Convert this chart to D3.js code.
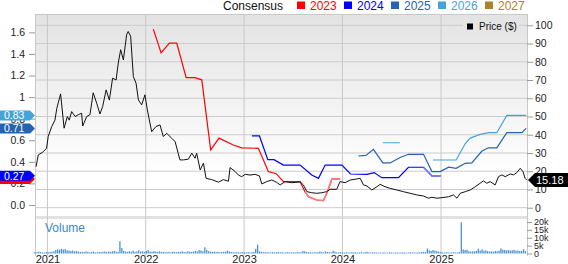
<!DOCTYPE html>
<html>
<head>
<meta charset="utf-8">
<script src="https://cdn.jsdelivr.net/npm/d3@7"></script>
<style>
body { margin: 0; background: #fff; }
svg { display: block; font-family: "Liberation Sans", Arial, sans-serif; }
</style>
</head>
<body>
<svg id="chart" width="568" height="264"></svg>
<script>
// ---- data ----
var yearTicks = ["2021-01-01", "2022-01-01", "2023-01-01", "2024-01-01", "2025-01-01"];
var yearLabels = ["2021", "2022", "2023", "2024", "2025"];
var legendYears = ["2023", "2024", "2025", "2026", "2027"];
var priceTicks = [0, 10, 20, 30, 40, 50, 60, 70, 80, 90, 100];
var consTicks = [0, 0.2, 0.4, 0.6, 0.8, 1, 1.2, 1.4, 1.6];
var consTickLabels = ["0.0", "0.2", "0.4", "0.6", "0.8", "1", "1.2", "1.4", "1.6"];
var volTicks = [0, 5, 10, 15, 20];
var volTickLabels = ["0", "5k", "10k", "15k", "20k"];
var lastPrice = 15.18;

var price = [
  ["2020-11-20", 22.5], ["2020-11-28", 28.9], ["2020-12-17", 30.7], ["2020-12-29", 32.6],
  ["2021-01-04", 39], ["2021-01-17", 44.5], ["2021-01-29", 48], ["2021-02-05", 54.5],
  ["2021-02-19", 62.4], ["2021-03-04", 43.6], ["2021-03-16", 50], ["2021-03-23", 48],
  ["2021-04-01", 52.7], ["2021-04-14", 50], ["2021-04-26", 51], ["2021-05-08", 51.8],
  ["2021-05-12", 44.8], ["2021-05-27", 50], ["2021-06-08", 51], ["2021-06-20", 63],
  ["2021-07-03", 57.3], ["2021-07-15", 51.4], ["2021-07-25", 55.4], ["2021-08-07", 64.6],
  ["2021-08-19", 59], ["2021-08-31", 71], ["2021-09-13", 70], ["2021-09-21", 79.3],
  ["2021-09-30", 86.6], ["2021-10-10", 81], ["2021-10-22", 94.8], ["2021-10-28", 96.6],
  ["2021-11-06", 94], ["2021-11-16", 71.9], ["2021-11-26", 68.3], ["2021-12-05", 59],
  ["2021-12-17", 56.4], ["2021-12-29", 61.9], ["2022-01-07", 53.6], ["2022-01-23", 41.7],
  ["2022-02-08", 44.5], ["2022-02-23", 45.4], ["2022-03-07", 39], ["2022-03-20", 40.8],
  ["2022-04-08", 38], ["2022-04-20", 36.2], ["2022-05-08", 26.2], ["2022-05-21", 26.2],
  ["2022-06-08", 26.6], ["2022-06-21", 29.9], ["2022-07-03", 27.1], ["2022-07-09", 29.9],
  ["2022-07-22", 20.7], ["2022-08-03", 24.4], ["2022-08-13", 16.1], ["2022-09-03", 15.4],
  ["2022-09-28", 14], ["2022-10-16", 15.4], ["2022-11-04", 14.5], ["2022-11-10", 22],
  ["2022-11-29", 19.8], ["2022-12-11", 17.9], ["2022-12-23", 17], ["2023-01-05", 18.3],
  ["2023-01-23", 17.9], ["2023-02-11", 18.3], ["2023-02-27", 17.4], ["2023-03-08", 13],
  ["2023-03-26", 14.3], ["2023-04-14", 15.2], ["2023-05-02", 13.9], ["2023-05-15", 12.5],
  ["2023-06-02", 14.3], ["2023-06-27", 13.7], ["2023-07-28", 14.1], ["2023-08-09", 12.5],
  ["2023-08-22", 8.8], ["2023-09-09", 8.2], ["2023-09-28", 7.9], ["2023-10-16", 8.2],
  ["2023-11-04", 8.8], ["2023-11-16", 10.1], ["2023-12-11", 10.1], ["2023-12-23", 14.3],
  ["2024-01-11", 13.7], ["2024-01-30", 15.2], ["2024-02-17", 15.6], ["2024-03-07", 16.1],
  ["2024-03-19", 12.5], ["2024-04-01", 11.9], ["2024-04-19", 9.7], ["2024-05-08", 11.5],
  ["2024-05-20", 12.8], ["2024-06-07", 11.5], ["2024-06-26", 10.6], ["2024-07-21", 9.7],
  ["2024-08-14", 8.8], ["2024-09-08", 7.9], ["2024-10-03", 7], ["2024-10-28", 6.4],
  ["2024-11-15", 5.2], ["2024-11-28", 5.7], ["2024-12-16", 5.2], ["2025-01-04", 5.5],
  ["2025-01-29", 6], ["2025-02-16", 7], ["2025-03-01", 5.2], ["2025-03-13", 7.9],
  ["2025-04-01", 8.8], ["2025-04-19", 9.7], ["2025-05-08", 11.5], ["2025-05-26", 13.4],
  ["2025-06-07", 14.7], ["2025-06-20", 13.4], ["2025-07-02", 14.3], ["2025-07-21", 12.5],
  ["2025-08-02", 17], ["2025-08-15", 18], ["2025-08-27", 17], ["2025-09-15", 18.5],
  ["2025-09-27", 18], ["2025-10-09", 19.2], ["2025-10-22", 21.6], ["2025-11-01", 19.8],
  ["2025-11-09", 16.1], ["2025-11-15", 15.18]
];

var cons2023 = [
  ["2022-01-29", 1.63], ["2022-02-27", 1.41], ["2022-03-30", 1.50], ["2022-04-26", 1.50],
  ["2022-05-31", 1.18], ["2022-07-03", 1.18], ["2022-07-28", 1.16], ["2022-08-30", 0.51],
  ["2022-09-30", 0.62], ["2022-11-22", 0.556], ["2022-12-23", 0.53], ["2023-02-23", 0.525],
  ["2023-04-01", 0.31], ["2023-04-30", 0.29], ["2023-05-27", 0.216], ["2023-07-28", 0.216],
  ["2023-08-15", 0.123], ["2023-08-28", 0.077], ["2023-09-28", 0.046], ["2023-10-22", 0.04],
  ["2023-11-04", 0.108], ["2023-11-23", 0.24], ["2023-12-23", 0.24]
];
var cons2024 = [
  ["2023-01-30", 0.64], ["2023-02-27", 0.64], ["2023-03-30", 0.42], ["2023-04-22", 0.42],
  ["2023-05-27", 0.37], ["2023-07-28", 0.37], ["2023-09-09", 0.278], ["2023-10-04", 0.247],
  ["2023-10-29", 0.37], ["2023-12-30", 0.37], ["2024-01-31", 0.287], ["2024-04-01", 0.284],
  ["2024-04-28", 0.30], ["2024-05-26", 0.253], ["2024-07-27", 0.253], ["2024-09-02", 0.35],
  ["2024-10-28", 0.35], ["2024-11-28", 0.27], ["2024-12-31", 0.27]
];
var cons2025 = [
  ["2024-02-29", 0.454], ["2024-03-28", 0.46], ["2024-04-25", 0.516], ["2024-05-30", 0.39],
  ["2024-06-26", 0.39], ["2024-08-02", 0.44], ["2024-09-02", 0.47], ["2024-10-28", 0.47],
  ["2024-11-28", 0.31], ["2024-12-29", 0.31], ["2025-01-29", 0.35], ["2025-02-26", 0.34],
  ["2025-04-01", 0.386], ["2025-04-25", 0.39], ["2025-06-02", 0.50], ["2025-06-26", 0.53],
  ["2025-07-27", 0.53], ["2025-09-02", 0.67], ["2025-10-28", 0.67], ["2025-11-13", 0.71]
];
var cons2026 = [
  ["2024-05-30", 0.577], ["2024-08-01", 0.577], ["2024-09-01", null],
  ["2024-12-02", 0.417], ["2025-02-26", 0.417], ["2025-04-01", 0.57], ["2025-04-19", 0.62],
  ["2025-05-26", 0.655], ["2025-06-26", 0.67], ["2025-07-27", 0.67], ["2025-09-02", 0.83],
  ["2025-11-13", 0.83]
];
var cons2027 = [];

// weekly volume (thousands), weeks starting 2020-11-16
var volStart = "2020-11-16";
var vol2020 = [1.0, 0.8, 1.2, 0.9, 0.7, 0.6, 1.0];
var vol2021 = [0.8, 1.0, 1.1, 1.4, 2.2, 2.6, 2.4, 3.0, 2.5, 2.8, 2.0, 1.8, 1.6, 1.9, 1.4, 1.5,
  1.2, 1.0, 1.1, 0.9, 1.3, 1.0, 0.8, 0.9, 1.2, 0.7, 0.8, 1.0, 0.9, 1.1, 1.3, 0.9, 1.2, 1.0,
  1.4, 1.6, 1.1, 1.0, 7.8, 3.5, 1.6, 1.2, 1.0, 1.4, 1.1, 1.8, 1.0, 1.3, 2.0, 1.2, 1.5, 1.0];
var vol2022 = [1.6, 2.1, 1.3, 1.1, 1.5, 1.2, 1.0, 1.4, 0.9, 1.1, 0.8, 0.9, 1.0, 0.7, 1.2, 0.9,
  0.8, 1.1, 1.0, 1.3, 1.0, 0.9, 1.4, 1.1, 1.0, 1.2, 1.6, 1.2, 2.2, 2.0, 1.4, 3.9, 2.2, 1.5,
  1.2, 1.0, 1.3, 0.9, 1.1, 0.8, 0.9, 1.0, 1.2, 1.8, 1.3, 1.0, 0.8, 0.7, 0.9, 0.8, 0.7, 0.9];
var vol2023 = [0.8, 0.7, 0.9, 0.6, 0.8, 1.0, 3.0, 5.6, 1.4, 1.0, 0.8, 0.9, 0.7, 0.8, 0.6, 0.9,
  0.7, 0.8, 1.0, 0.7, 0.8, 0.6, 0.7, 0.9, 0.6, 0.8, 0.7, 0.6, 0.9, 0.7, 0.8, 1.6, 1.4, 0.9,
  0.7, 0.8, 0.6, 0.7, 0.9, 0.8, 1.3, 0.8, 0.7, 1.4, 1.0, 0.8, 0.7, 1.8, 1.2, 0.8, 0.7, 0.9];
var vol2024 = [0.7, 0.6, 0.8, 0.7, 0.6, 0.9, 0.7, 0.8, 0.6, 0.7, 0.8, 0.6, 0.9, 1.1, 0.7, 0.6,
  0.8, 0.7, 0.6, 0.5, 0.6, 0.5, 0.7, 0.6, 0.5, 0.8, 0.6, 0.5, 0.6, 0.7, 0.5, 0.6, 0.7, 0.6,
  0.5, 0.6, 0.8, 0.6, 0.7, 0.6, 0.7, 0.8, 0.9, 1.0, 0.9, 3.2, 2.0, 1.6, 2.2, 1.8, 1.5, 1.2];
var vol2025 = [0.9, 0.7, 0.6, 0.8, 0.7, 0.6, 0.7, 0.8, 0.6, 0.7, 0.9, 19.8, 2.6, 2.2, 2.4, 1.5,
  1.2, 1.4, 1.3, 1.6, 3.1, 1.9, 2.6, 1.8, 2.0, 1.5, 1.2, 1.4, 1.1, 1.6, 1.3, 1.8, 3.3, 2.4,
  2.2, 2.0, 2.1, 1.9, 2.0, 2.3, 1.8, 1.9, 1.6, 1.7, 2.7, 1.5];

// ---- drawing ----
var parse = d3.timeParse("%Y-%m-%d");
var svg = d3.select("#chart");
var L = 35, R = 527, T = 14, B = 216, VT = 219, VB = 253.5;

var x = d3.scaleTime().domain([parse("2020-11-16"), parse("2025-11-16")]).range([L, R]);
var yL = d3.scaleLinear().domain([-0.102, 1.77]).range([B, T]);
var yR = d3.scaleLinear().domain([-4.55, 106.2]).range([B, T]);
var yV = d3.scaleLinear().domain([0, 20]).range([VB, 222]);

var colors = { "2023": "#ff0000", "2024": "#0000ff", "2025": "#2463b3", "2026": "#45a4d6", "2027": "#b07e2f" };
var fadeColors = { "2023": "#ff7a7a", "2024": "#7a7aff" };

var defs = svg.append("defs");
var grad = defs.append("linearGradient").attr("id", "bg")
  .attr("gradientUnits", "userSpaceOnUse").attr("x1", 0).attr("x2", 0).attr("y1", T).attr("y2", B);
grad.append("stop").attr("offset", "0").attr("stop-color", "#e3e3e3");
grad.append("stop").attr("offset", "0.8").attr("stop-color", "#ffffff");

svg.append("rect").attr("x", L).attr("y", T).attr("width", R - L).attr("height", B - T).attr("fill", "url(#bg)");
svg.append("rect").attr("x", L).attr("y", B).attr("width", R - L).attr("height", VT - B).attr("fill", "#e2e2e2");

// grid
svg.append("g").selectAll("line").data(priceTicks).enter().append("line")
  .attr("x1", L).attr("x2", R).attr("y1", d => yR(d)).attr("y2", d => yR(d))
  .attr("stroke", "#cccccc").attr("stroke-width", 1);
svg.append("g").selectAll("line").data(yearTicks).enter().append("line")
  .attr("x1", d => x(parse(d))).attr("x2", d => x(parse(d)))
  .attr("y1", T).attr("y2", 256)
  .attr("stroke", "#c8c8c8").attr("stroke-width", 1);
svg.append("line").attr("x1", L).attr("x2", R).attr("y1", T + 0.5).attr("y2", T + 0.5).attr("stroke", "#c8c8c8");
svg.append("line").attr("x1", L + 0.5).attr("x2", L + 0.5).attr("y1", T).attr("y2", 256).attr("stroke", "#c8c8c8");
svg.append("line").attr("x1", R + 0.5).attr("x2", R + 0.5).attr("y1", T).attr("y2", 256).attr("stroke", "#c8c8c8");

// axes
function styleAxis(g, size) {
  g.select(".domain").remove();
  g.selectAll(".tick line").attr("stroke", "#999");
  g.selectAll(".tick text").attr("fill", "#222").style("font-size", size)
    .style("font-family", "'Liberation Sans', Arial, sans-serif");
}
svg.append("g").attr("transform", "translate(" + L + ",0)")
  .call(d3.axisLeft(yL).tickValues(consTicks).tickFormat((d, i) => consTickLabels[i]).tickSize(6).tickPadding(4))
  .call(g => styleAxis(g, "10.5px"));
svg.append("g").attr("transform", "translate(" + R + ",0)")
  .call(d3.axisRight(yR).tickValues(priceTicks).tickSize(6).tickPadding(2))
  .call(g => styleAxis(g, "10.5px"));
svg.append("g").attr("transform", "translate(" + R + ",0)")
  .call(d3.axisRight(yV).tickValues(volTicks).tickFormat((d, i) => volTickLabels[i]).tickSize(5).tickPadding(2))
  .call(g => styleAxis(g, "9px"));
svg.append("g").attr("transform", "translate(0,254)")
  .call(d3.axisBottom(x).tickValues(yearTicks.map(parse)).tickFormat((d, i) => yearLabels[i]).tickSize(0).tickPadding(1))
  .call(g => styleAxis(g, "11px"));

// consensus lines
var consLine = d3.line().defined(d => d[1] !== null)
  .x(d => x(parse(d[0]))).y(d => yL(d[1]));
function drawCons(data, yr, fadeFrom) {
  if (!data.length) return;
  svg.append("path").datum(data).attr("d", consLine).attr("fill", "none")
    .attr("stroke", colors[yr]).attr("stroke-width", 1.2);
  if (fadeFrom) {
    var k = data.findIndex(d => d[0] >= fadeFrom);
    svg.append("path").datum(data.slice(Math.max(k - 1, 0))).attr("d", consLine).attr("fill", "none")
      .attr("stroke", fadeColors[yr]).attr("stroke-width", 1.6);
  }
}
drawCons(cons2023, "2023", "2023-08-28");
drawCons(cons2024, "2024", "2024-11-28");
drawCons(cons2025, "2025");
drawCons(cons2026, "2026");
drawCons(cons2027, "2027");

// price line
svg.append("path").datum(price)
  .attr("d", d3.line().x(d => x(parse(d[0]))).y(d => yR(d[1])))
  .attr("fill", "none").attr("stroke", "#111").attr("stroke-width", 1);

// volume bars
var vols = [].concat(vol2020, vol2021, vol2022, vol2023, vol2024, vol2025);
var start = parse(volStart);
svg.append("g").selectAll("rect").data(vols).enter().append("rect")
  .attr("x", (d, i) => x(d3.timeWeek.offset(start, i)) - 0.6)
  .attr("width", 1.3)
  .attr("y", d => yV(d))
  .attr("height", d => VB - yV(d))
  .attr("fill", "#4a92d4");
svg.append("text").attr("x", 45).attr("y", 232).attr("fill", "#3a87c9")
  .style("font-size", "12px").text("Volume");

// top legend
svg.append("text").attr("x", 223).attr("y", 9.5).attr("fill", "#111").style("font-size", "12px").text("Consensus");
var lg = svg.append("g").selectAll("g").data(legendYears).enter().append("g")
  .attr("transform", (d, i) => "translate(" + (297 + i * 47) + ",0)");
lg.append("rect").attr("x", 0).attr("y", 1.5).attr("width", 8).attr("height", 7.5).attr("fill", d => colors[d]);
lg.append("text").attr("x", 13).attr("y", 9.5).attr("fill", d => colors[d]).style("font-size", "12px").text(d => d);

// price legend
svg.append("rect").attr("x", 463).attr("y", 19).attr("width", 56).attr("height", 15).attr("fill", "url(#bg)");
svg.append("rect").attr("x", 467).attr("y", 23.5).attr("width", 6).attr("height", 6).attr("fill", "#000");
svg.append("text").attr("x", 479).attr("y", 30).attr("fill", "#111").style("font-size", "10px").text("Price ($)");

// left value tags (last consensus values); the 2023 tag sits hidden under 2024
var tags = [["2023", cons2023, false], ["2024", cons2024, true], ["2025", cons2025, true], ["2026", cons2026, true]];
tags.forEach(function (t) {
  var v = t[1][t[1].length - 1][1];
  var yy = yL(v);
  svg.append("path")
    .attr("d", "M0," + (yy - 5) + "H30L35," + yy + "L30," + (yy + 5) + "H0Z")
    .attr("fill", colors[t[0]]);
  if (t[2]) {
    svg.append("text").attr("x", 4).attr("y", yy).attr("dy", "0.35em").attr("fill", "#fff")
      .style("font-size", "10.5px").text(d3.format(".2f")(v));
  }
});

// right price tag
var py = yR(lastPrice);
svg.append("path")
  .attr("d", "M" + (R + 1) + "," + py + "L" + (R + 8) + "," + (py - 7) + "H568V" + (py + 7) + "H" + (R + 8) + "Z")
  .attr("fill", "#000");
svg.append("text").attr("x", R + 9).attr("y", py).attr("dy", "0.36em").attr("fill", "#fff")
  .style("font-size", "11px").text(d3.format(".2f")(lastPrice));
</script>
</body>
</html>
